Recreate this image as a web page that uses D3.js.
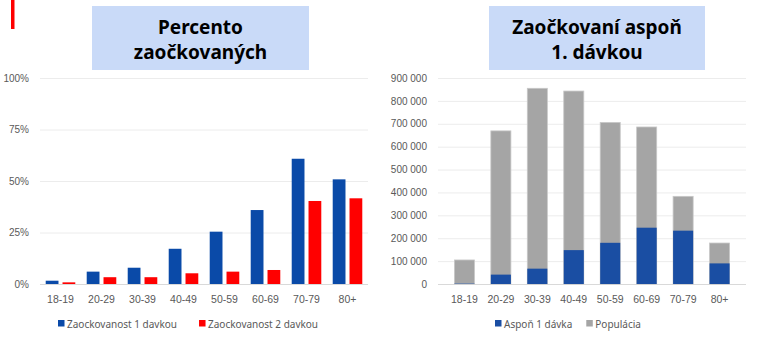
<!DOCTYPE html>
<html>
<head>
<meta charset="utf-8">
<script src="https://cdn.jsdelivr.net/npm/d3@7"></script>
<style>
  body { margin: 0; background: #fff; }
  svg { display: block; font-family: "Noto Sans", "Open Sans", sans-serif; }
  .tick text { fill: #595959; }
</style>
</head>
<body>
<div id="chart"></div>
<script>
// Datos
const ageGroups = ["18-19", "20-29", "30-39", "40-49", "50-59", "60-69", "70-79", "80+"];
const dose1Pct = [0.016, 0.060, 0.079, 0.171, 0.254, 0.359, 0.608, 0.508];
const dose2Pct = [0.008, 0.033, 0.033, 0.052, 0.060, 0.068, 0.403, 0.416];
const pctTicks = [0, 0.25, 0.5, 0.75, 1];

const atLeastOne = [1700, 41000, 67000, 148000, 180000, 246000, 233000, 90000];
const population = [105000, 669000, 855000, 843000, 706000, 686000, 383000, 179000];
const countTicks = [0, 100000, 200000, 300000, 400000, 500000, 600000, 700000, 800000, 900000];

const W = 760, H = 351;
const svg = d3.select("#chart").append("svg").attr("width", W).attr("height", H);

// Línea roja decorativa
svg.append("rect").attr("x", 11).attr("y", 0).attr("width", 3.5).attr("height", 29).attr("fill", "#ff0000");

function titleBox(x, w, lines) {
    svg.append("rect").attr("x", x).attr("y", 6).attr("width", w).attr("height", 64).attr("fill", "#c9daf8");
    lines.forEach((t, i) => {
        svg.append("text")
            .attr("x", x + w / 2).attr("y", 34 + i * 25)
            .attr("text-anchor", "middle")
            .style("font-size", "19px").style("font-weight", "bold").attr("fill", "#000")
            .text(t);
    });
}

const yTop = 78, yBot = 284;

// ---- Gráfico izquierdo ----
const x1 = d3.scaleBand().domain(ageGroups).range([40, 368]);
const y1 = d3.scaleLinear().domain([0, 1]).range([yBot, yTop]);

titleBox(92, 217, ["Percento", "zaočkovaných"]);

svg.append("g").attr("transform", "translate(40,0)")
    .call(d3.axisLeft(y1).tickValues(pctTicks).tickFormat(d3.format(".0%")).tickSize(-328).tickPadding(11))
    .call(g => g.select(".domain").remove())
    .call(g => g.selectAll(".tick line").attr("stroke", d => d === 0 ? "#d9d9d9" : "#ececec"))
    .call(g => g.selectAll(".tick text").style("font-size", "10px"));

svg.append("g").attr("transform", `translate(0,${yBot})`)
    .call(d3.axisBottom(x1).tickSize(0).tickPadding(12))
    .call(g => g.select(".domain").remove())
    .call(g => g.selectAll(".tick text").style("font-size", "10.5px"));

const inner1 = d3.scaleBand().domain(["d1", "d2"]).range([0, x1.bandwidth()]).paddingInner(0.24).paddingOuter(0.34);

svg.append("g").selectAll("rect").data(ageGroups).join("rect")
    .attr("x", d => x1(d) + inner1("d1"))
    .attr("y", (d, i) => y1(dose1Pct[i]))
    .attr("width", inner1.bandwidth())
    .attr("height", (d, i) => yBot - y1(dose1Pct[i]))
    .attr("fill", "#0a4aa8");

svg.append("g").selectAll("rect").data(ageGroups).join("rect")
    .attr("x", d => x1(d) + inner1("d2"))
    .attr("y", (d, i) => y1(dose2Pct[i]))
    .attr("width", inner1.bandwidth())
    .attr("height", (d, i) => yBot - y1(dose2Pct[i]))
    .attr("fill", "#ff0000");

function legend(x, y, items) {
    let cx = x;
    items.forEach(([label, color, gap]) => {
        svg.append("rect").attr("x", cx).attr("y", y - 4).attr("width", 6.5).attr("height", 6.5).attr("fill", color);
        const t = svg.append("text").attr("x", cx + 9).attr("y", y + 3.5)
            .style("font-size", "10px").attr("fill", "#595959").text(label);
        cx += 9 + t.node().getComputedTextLength() + gap;
    });
}
legend(58, 324, [["Zaockovanost 1 davkou", "#0a4aa8", 22], ["Zaockovanost 2 davkou", "#ff0000", 0]]);

// ---- Gráfico derecho ----
const x2 = d3.scaleBand().domain(ageGroups).range([438, 746]).padding(0.45);
const y2 = d3.scaleLinear().domain([0, 900000]).range([yBot, yTop]);

titleBox(489, 216, ["Zaočkovaní aspoň", "1. dávkou"]);

svg.append("g").attr("transform", "translate(438,0)")
    .call(d3.axisLeft(y2).tickValues(countTicks).tickFormat(d => d3.format(",")(d).replace(/,/g, " ")).tickSize(-308).tickPadding(11))
    .call(g => g.select(".domain").remove())
    .call(g => g.selectAll(".tick line").attr("stroke", d => d === 0 ? "#d9d9d9" : "#ececec"))
    .call(g => g.selectAll(".tick text").style("font-size", "10px"));

svg.append("g").attr("transform", `translate(0,${yBot})`)
    .call(d3.axisBottom(x2).tickSize(0).tickPadding(12))
    .call(g => g.select(".domain").remove())
    .call(g => g.selectAll(".tick text").style("font-size", "10.5px"));

svg.append("g").selectAll("rect").data(ageGroups).join("rect")
    .attr("x", d => x2(d))
    .attr("y", (d, i) => y2(population[i]))
    .attr("width", x2.bandwidth())
    .attr("height", (d, i) => yBot - y2(population[i]))
    .attr("fill", "#a5a5a5").attr("stroke", "#c8c8c8").attr("stroke-width", 0.8);

svg.append("g").selectAll("rect").data(ageGroups).join("rect")
    .attr("x", d => x2(d))
    .attr("y", (d, i) => y2(atLeastOne[i]))
    .attr("width", x2.bandwidth())
    .attr("height", (d, i) => yBot - y2(atLeastOne[i]))
    .attr("fill", "#1a4ea3");

legend(495, 324, [["Aspoň 1 dávka", "#1a4ea3", 14], ["Populácia", "#a5a5a5", 0]]);
</script>
</body>
</html>
